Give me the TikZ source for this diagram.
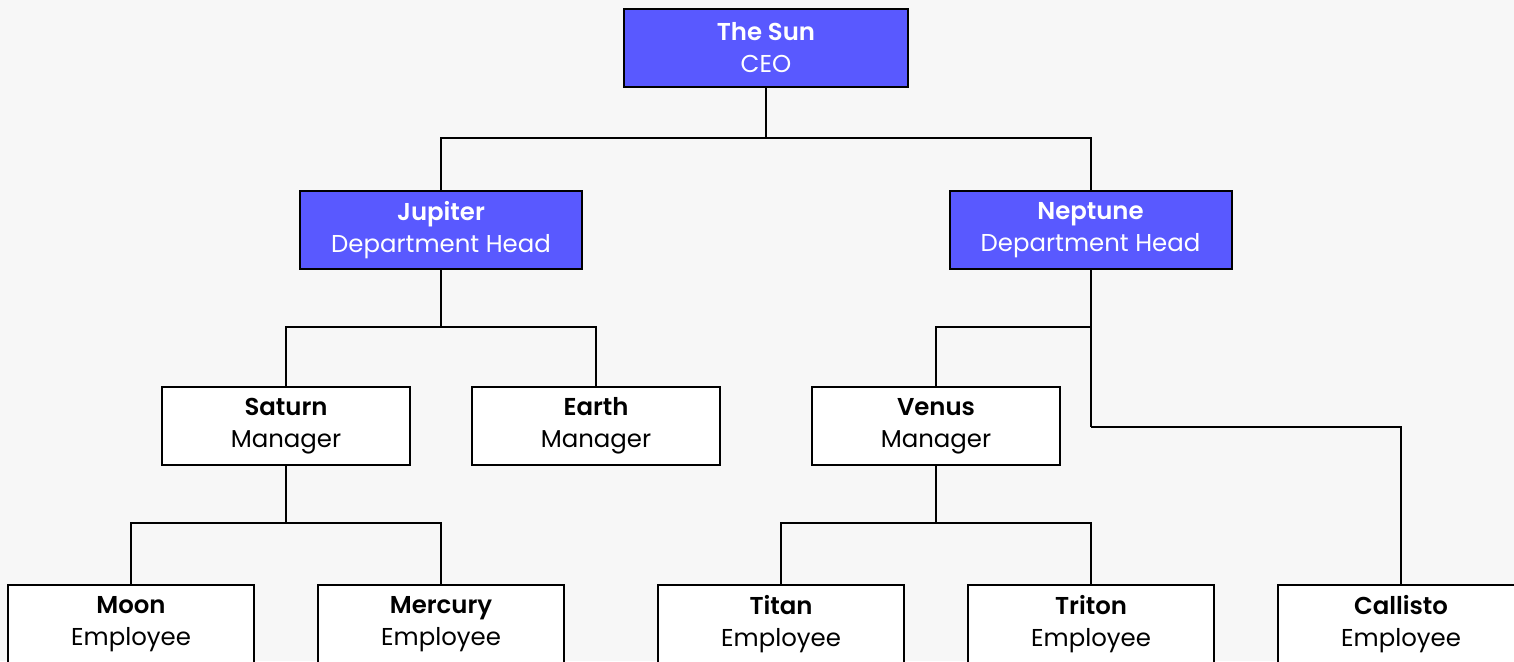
\documentclass[tikz,border=0pt]{standalone}
\usepackage{fontspec}
\setmainfont{Poppins}[BoldFont={Poppins SemiBold}]
\definecolor{sunblue}{HTML}{5959FF}
\definecolor{paper}{HTML}{F7F7F7}
\tikzset{
  card/.style={draw, line width=1pt, align=center, inner sep=0pt,
    minimum height=39pt, font=\fontsize{12.2}{16}\selectfont},
  head/.style={card, fill=sunblue, text=white, minimum width=141pt},
  staff/.style={card, fill=white, text=black},
  link/.style={line width=1pt}
}
\begin{document}
\begin{tikzpicture}[x=0.5pt, y=-0.5pt]
    \fill[paper] (0, 0) rectangle (1514, 661);
    \useasboundingbox (0, 0) rectangle (1514, 661);

    \node[head, minimum width=142pt] (sun) at(766, 48){\textbf{The Sun}\\CEO};
    \node[head] (jupiter) at(441, 230){\textbf{Jupiter}\\Department Head};
    \node[head] (neptune) at(1090.5, 230){\textbf{Neptune}\\Department Head};

    \node[staff, minimum width=124pt] (saturn) at(286, 426){\textbf{Saturn}\\Manager};
    \node[staff, minimum width=124pt] (earth) at(596, 426){\textbf{Earth}\\Manager};
    \node[staff, minimum width=124pt] (venus) at(936, 426){\textbf{Venus}\\Manager};

    \node[staff, minimum width=123pt] (moon) at(131, 624){\textbf{Moon}\\Employee};
    \node[staff, minimum width=123pt] (mercury) at(441, 624){\textbf{Mercury}\\Employee};
    \node[staff, minimum width=123pt] (titan) at(781, 624){\textbf{Titan}\\Employee};
    \node[staff, minimum width=123pt] (triton) at(1091, 624){\textbf{Triton}\\Employee};
    \node[staff, minimum width=123pt] (callisto) at(1401, 624){\textbf{Callisto}\\Employee};

    \draw[link] (sun.south) to (766, 138) coordinate (sunbar);
      \draw[link] (sunbar) -| (jupiter.north);
      \draw[link] (sunbar) -| (neptune.north);

    \draw[link] (jupiter.south) to (441, 327) coordinate (jupbar);
      \draw[link] (jupbar) -| (saturn.north);
      \draw[link] (jupbar) -| (earth.north);

    \draw[link] (neptune.south) to (1090.5, 327) coordinate (nepbar);
      \draw[link] (nepbar) -| (venus.north);
      \draw[link] (nepbar) to (1090.5, 427) coordinate (nepturn);
      \draw[link] (nepturn) -| (callisto.north);

    \draw[link] (saturn.south) to (286, 523) coordinate (satbar);
      \draw[link] (satbar) -| (moon.north);
      \draw[link] (satbar) -| (mercury.north);

    \draw[link] (venus.south) to (936, 523) coordinate (venbar);
      \draw[link] (venbar) -| (titan.north);
      \draw[link] (venbar) -| (triton.north);
\end{tikzpicture}
\end{document}
